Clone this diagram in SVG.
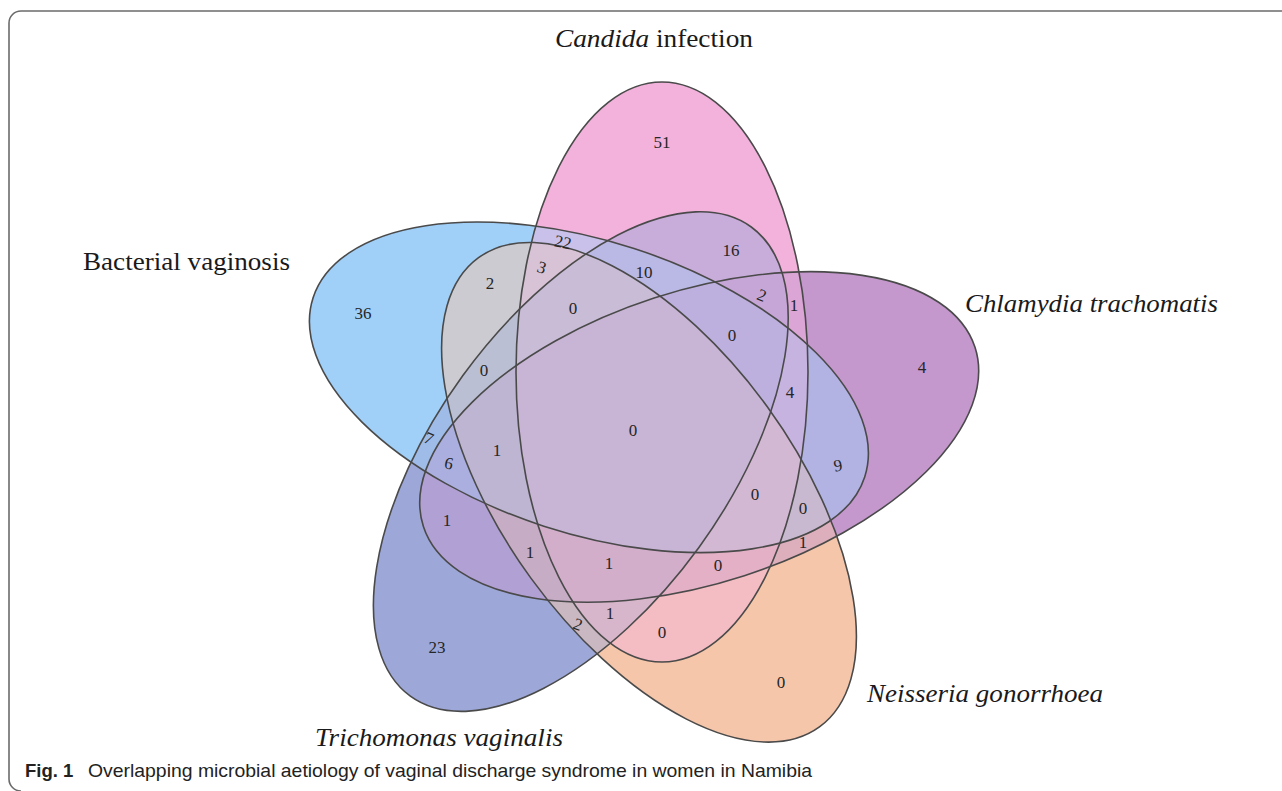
<svg xmlns="http://www.w3.org/2000/svg" xmlns:xlink="http://www.w3.org/1999/xlink" width="1282" height="791" viewBox="0 0 1282 791">
<style>
.lab{font-family:"Liberation Serif","DejaVu Serif",serif;font-size:25px;fill:#1a1a1a}
.it{font-style:italic}
.num{font-family:"Liberation Serif","DejaVu Serif",serif;font-size:17px;fill:#262626;text-anchor:middle}
.outline{fill:none;stroke:#4a4a4a;stroke-width:1.6}
.cap{font-family:"Liberation Sans","Noto Sans",sans-serif;font-size:18.5px;fill:#222}
</style>
<defs>
<ellipse id="eB" cx="588.9" cy="387.3" rx="290" ry="146" transform="rotate(18 588.9 387.3)"/>
<ellipse id="eC" cx="662" cy="372" rx="290" ry="146" transform="rotate(90 662 372)"/>
<ellipse id="eH" cx="699.2" cy="436.9" rx="290" ry="146" transform="rotate(-18 699.2 436.9)"/>
<ellipse id="eN" cx="649" cy="492.3" rx="290" ry="146" transform="rotate(54 649 492.3)"/>
<ellipse id="eT" cx="580.8" cy="461.6" rx="290" ry="146" transform="rotate(-54 580.8 461.6)"/>
<clipPath id="kB"><use xlink:href="#eB"/></clipPath>
<clipPath id="kC"><use xlink:href="#eC"/></clipPath>
<clipPath id="kH"><use xlink:href="#eH"/></clipPath>
<clipPath id="kN"><use xlink:href="#eN"/></clipPath>
<clipPath id="kT"><use xlink:href="#eT"/></clipPath>
</defs>
<rect width="1282" height="791" fill="#ffffff"/>
<path d="M1282,11 H21 A12,12 0 0 0 9,23 V779 A12,12 0 0 0 21,791" fill="none" stroke="#6b6b6b" stroke-width="1.6"/>
<g id="regions">
<use xlink:href="#eB" fill="#A0CFF8"/>
<use xlink:href="#eC" fill="#F2B2DC"/>
<use xlink:href="#eH" fill="#C497CD"/>
<use xlink:href="#eN" fill="#F5C6AA"/>
<use xlink:href="#eT" fill="#9DA8D8"/>
<g clip-path="url(#kB)"><use xlink:href="#eC" fill="#C9C1EA"/></g>
<g clip-path="url(#kB)"><use xlink:href="#eH" fill="#B2B3E3"/></g>
<g clip-path="url(#kB)"><use xlink:href="#eN" fill="#CBCBD1"/></g>
<g clip-path="url(#kB)"><use xlink:href="#eT" fill="#9FBCE8"/></g>
<g clip-path="url(#kC)"><use xlink:href="#eH" fill="#DBA5D5"/></g>
<g clip-path="url(#kC)"><use xlink:href="#eN" fill="#F4BCC3"/></g>
<g clip-path="url(#kC)"><use xlink:href="#eT" fill="#C8ADDA"/></g>
<g clip-path="url(#kH)"><use xlink:href="#eN" fill="#DDAFBC"/></g>
<g clip-path="url(#kH)"><use xlink:href="#eT" fill="#B1A0D3"/></g>
<g clip-path="url(#kN)"><use xlink:href="#eT" fill="#C9B7C1"/></g>
<g clip-path="url(#kB)"><g clip-path="url(#kC)"><use xlink:href="#eH" fill="#C7B3E0"/></g></g>
<g clip-path="url(#kB)"><g clip-path="url(#kC)"><use xlink:href="#eN" fill="#D8C2D5"/></g></g>
<g clip-path="url(#kB)"><g clip-path="url(#kC)"><use xlink:href="#eT" fill="#BAB8E4"/></g></g>
<g clip-path="url(#kB)"><g clip-path="url(#kH)"><use xlink:href="#eN" fill="#C8B9D0"/></g></g>
<g clip-path="url(#kB)"><g clip-path="url(#kH)"><use xlink:href="#eT" fill="#ABAFDF"/></g></g>
<g clip-path="url(#kB)"><g clip-path="url(#kN)"><use xlink:href="#eT" fill="#BBBFD3"/></g></g>
<g clip-path="url(#kC)"><g clip-path="url(#kH)"><use xlink:href="#eN" fill="#E4B0C6"/></g></g>
<g clip-path="url(#kC)"><g clip-path="url(#kH)"><use xlink:href="#eT" fill="#C6A6D6"/></g></g>
<g clip-path="url(#kC)"><g clip-path="url(#kN)"><use xlink:href="#eT" fill="#D7B5CA"/></g></g>
<g clip-path="url(#kH)"><g clip-path="url(#kN)"><use xlink:href="#eT" fill="#C7ACC5"/></g></g>
<g clip-path="url(#kC)"><g clip-path="url(#kH)"><g clip-path="url(#kN)"><use xlink:href="#eT" fill="#D2AECB"/></g></g></g>
<g clip-path="url(#kB)"><g clip-path="url(#kH)"><g clip-path="url(#kN)"><use xlink:href="#eT" fill="#BEB5D2"/></g></g></g>
<g clip-path="url(#kB)"><g clip-path="url(#kC)"><g clip-path="url(#kN)"><use xlink:href="#eT" fill="#C9BCD6"/></g></g></g>
<g clip-path="url(#kB)"><g clip-path="url(#kC)"><g clip-path="url(#kH)"><use xlink:href="#eT" fill="#BDB0DE"/></g></g></g>
<g clip-path="url(#kB)"><g clip-path="url(#kC)"><g clip-path="url(#kH)"><use xlink:href="#eN" fill="#D3B8D3"/></g></g></g>
<g clip-path="url(#kB)"><g clip-path="url(#kC)"><g clip-path="url(#kH)"><g clip-path="url(#kN)"><use xlink:href="#eT" fill="#C8B4D4"/></g></g></g></g>
</g>
<g id="set-bacterial-vaginosis">
<use xlink:href="#eB" class="outline"/>
<text class="lab" x="83" y="270" textLength="207" lengthAdjust="spacingAndGlyphs">Bacterial vaginosis</text>
</g>
<g id="set-candida">
<use xlink:href="#eC" class="outline"/>
<text class="lab" x="555" y="47" textLength="198" lengthAdjust="spacingAndGlyphs"><tspan class="it">Candida</tspan> infection</text>
</g>
<g id="set-chlamydia">
<use xlink:href="#eH" class="outline"/>
<text class="lab it" x="965" y="312" textLength="253" lengthAdjust="spacingAndGlyphs">Chlamydia trachomatis</text>
</g>
<g id="set-neisseria">
<use xlink:href="#eN" class="outline"/>
<text class="lab it" x="867" y="702" textLength="236" lengthAdjust="spacingAndGlyphs">Neisseria gonorrhoea</text>
</g>
<g id="set-trichomonas">
<use xlink:href="#eT" class="outline"/>
<text class="lab it" x="315" y="746" textLength="248" lengthAdjust="spacingAndGlyphs">Trichomonas vaginalis</text>
</g>
<g id="counts">
<text class="num" x="662" y="148">51</text>
<text class="num" x="563" y="248" transform="rotate(12 563 242)">22</text>
<text class="num" x="731" y="256">16</text>
<text class="num" x="644" y="278">10</text>
<text class="num" x="490" y="289">2</text>
<text class="num" x="542" y="273" transform="rotate(18 542 267)">3</text>
<text class="num" x="762" y="301" transform="rotate(22 762 295)">2</text>
<text class="num" x="794" y="311">1</text>
<text class="num" x="573" y="314">0</text>
<text class="num" x="732" y="341">0</text>
<text class="num" x="363" y="319">36</text>
<text class="num" x="484" y="376">0</text>
<text class="num" x="922" y="373">4</text>
<text class="num" x="790" y="398">4</text>
<text class="num" x="633" y="436">0</text>
<text class="num" x="429" y="444" transform="rotate(22 429 438)">7</text>
<text class="num" x="449" y="469" transform="rotate(12 449 463)">6</text>
<text class="num" x="497" y="456">1</text>
<text class="num" x="838" y="471" transform="rotate(-10 838 465)">9</text>
<text class="num" x="755" y="500">0</text>
<text class="num" x="803" y="514">0</text>
<text class="num" x="447" y="526">1</text>
<text class="num" x="803" y="548">1</text>
<text class="num" x="530" y="558">1</text>
<text class="num" x="609" y="569">1</text>
<text class="num" x="718" y="571">0</text>
<text class="num" x="610" y="619">1</text>
<text class="num" x="578" y="630" transform="rotate(20 578 624)">2</text>
<text class="num" x="662" y="638">0</text>
<text class="num" x="437" y="653">23</text>
<text class="num" x="781" y="688">0</text>
</g>
<g id="caption">
<text class="cap" x="25" y="777" font-weight="bold">Fig. 1</text>
<text class="cap" x="88" y="777" textLength="724" lengthAdjust="spacingAndGlyphs">Overlapping microbial aetiology of vaginal discharge syndrome in women in Namibia</text>
</g>
</svg>
